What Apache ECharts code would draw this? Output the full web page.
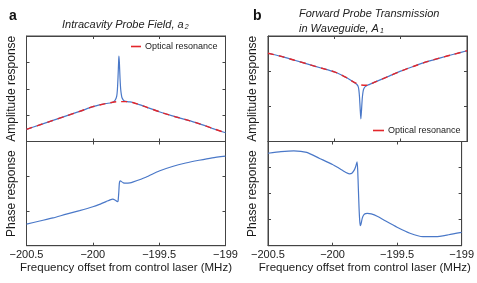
<!DOCTYPE html>
<html>
<head>
<meta charset="utf-8">
<script src="https://cdn.jsdelivr.net/npm/echarts@6/dist/echarts.min.js"></script>
<style>
html,body{margin:0;padding:0;background:#fff;}
#c{width:477px;height:283px;}
</style>
</head>
<body>
<div id="c"></div>
<script>
// ---------- data ----------
var xTicks = [-200.5, -200, -199.5, -199];

// Panel a: intracavity probe field, amplitude
var freqAmpA = [-200.5,-200.4,-200.3,-200.2,-200.1,-200.0,-199.95,-199.9,-199.86,-199.84,-199.83,-199.82,-199.815,-199.81,-199.805,-199.803,-199.8,-199.795,-199.79,-199.785,-199.78,-199.77,-199.76,-199.74,-199.72,-199.7,-199.65,-199.6,-199.5,-199.4,-199.3,-199.2,-199.1,-199.0];
var ampA     = [0.46,0.63,0.80,0.97,1.14,1.32,1.39,1.44,1.47,1.52,1.58,1.72,1.95,2.45,3.10,3.24,3.00,2.40,1.98,1.78,1.66,1.57,1.53,1.51,1.50,1.48,1.40,1.31,1.13,0.97,0.83,0.68,0.50,0.33];
var freqOptA = [-200.5,-200.4,-200.3,-200.2,-200.1,-200.0,-199.9,-199.85,-199.8,-199.75,-199.7,-199.6,-199.5,-199.4,-199.3,-199.2,-199.1,-199.0];
var optA     = [0.46,0.63,0.80,0.97,1.14,1.32,1.44,1.49,1.51,1.51,1.48,1.31,1.13,0.97,0.83,0.68,0.50,0.33];

// Panel a: phase
var freqPhA = [-200.5,-200.4,-200.3,-200.2,-200.1,-200.0,-199.95,-199.9,-199.87,-199.85,-199.83,-199.815,-199.81,-199.805,-199.8,-199.795,-199.79,-199.77,-199.75,-199.72,-199.7,-199.6,-199.5,-199.4,-199.3,-199.2,-199.1,-199.0];
var phA     = [0.62,0.71,0.80,0.91,1.01,1.12,1.19,1.27,1.32,1.34,1.31,1.27,1.28,1.50,1.80,1.87,1.86,1.81,1.80,1.81,1.83,1.97,2.15,2.28,2.38,2.46,2.53,2.58];

// Panel b: forward probe transmission, amplitude
var freqAmpB = [-200.5,-200.4,-200.3,-200.2,-200.1,-200.0,-199.95,-199.9,-199.85,-199.83,-199.82,-199.815,-199.81,-199.805,-199.8,-199.795,-199.79,-199.785,-199.78,-199.77,-199.76,-199.75,-199.7,-199.6,-199.5,-199.4,-199.3,-199.2,-199.1,-199.0];
var ampB     = [2.51,2.42,2.31,2.20,2.09,1.98,1.90,1.80,1.68,1.62,1.56,1.46,1.25,0.92,0.64,0.90,1.20,1.38,1.48,1.55,1.58,1.60,1.68,1.84,2.00,2.14,2.27,2.38,2.48,2.58];
var freqOptB = [-200.5,-200.4,-200.3,-200.2,-200.1,-200.0,-199.95,-199.9,-199.85,-199.8,-199.75,-199.7,-199.6,-199.5,-199.4,-199.3,-199.2,-199.1,-199.0];
var optB     = [2.51,2.42,2.31,2.20,2.09,1.98,1.90,1.80,1.68,1.61,1.60,1.68,1.84,2.00,2.14,2.27,2.38,2.48,2.58];

// Panel b: phase
var freqPhB = [-200.5,-200.4,-200.3,-200.2,-200.1,-200.0,-199.95,-199.9,-199.87,-199.85,-199.83,-199.82,-199.81,-199.805,-199.8,-199.795,-199.79,-199.785,-199.78,-199.77,-199.76,-199.745,-199.73,-199.7,-199.65,-199.6,-199.5,-199.4,-199.3,-199.2,-199.1,-199.0];
var phB     = [3.55,3.61,3.64,3.58,3.35,3.12,2.97,2.82,2.76,2.78,2.92,3.05,3.22,2.90,2.20,1.50,1.00,0.77,0.82,1.05,1.17,1.23,1.24,1.22,1.12,0.98,0.71,0.48,0.35,0.35,0.42,0.51];

// ---------- chart ----------
function zip(xs, ys){ return xs.map(function(x,i){ return [x, ys[i]]; }); }
var BLUE = '#4a78c8', RED = '#e3262b', AX = '#444', TXT = '#1a1a1a';
var FONT = 'Liberation Sans, Arial, sans-serif';
function fmt(v){ return String(v).replace('-', '\u2212'); }

var grids = [
  {left:26.5, top:36, width:199, height:105.5},
  {left:26.5, top:141.5, width:199, height:104.2},
  {left:268, top:36, width:199, height:105.5},
  {left:268, top:141.5, width:199, height:104.2}
].map(function(g){ g.show = true; g.borderColor = AX; g.borderWidth = 1; g.backgroundColor = 'transparent'; return g; });

var xAxes = [], yAxes = [];
var yRanges = [[0,4],[0,3],[0,3],[0,4]];
grids.forEach(function(g, gi){
  var showLab = (gi === 1 || gi === 3);
  ['bottom','top'].forEach(function(pos){
    var main = (pos === 'bottom');
    xAxes.push({
      type:'value', gridIndex:gi, position:pos, min:-200.5, max:-199, interval:0.5,
      axisLine:{show:true, onZero:false, lineStyle:{color:AX, width:1}},
      axisTick:{show:true, inside:true, length:3, lineStyle:{color:AX}},
      splitLine:{show:false},
      axisLabel:{show: showLab && main, formatter:fmt, fontSize:11, fontFamily:FONT, color:TXT, margin:4, showMinLabel:true, showMaxLabel:true},
      name: (showLab && main) ? 'Frequency offset from control laser (MHz)' : '',
      nameLocation:'middle', nameGap:15,
      nameTextStyle:{fontSize:11.5, fontFamily:FONT, color:TXT}
    });
  });
  ['left','right'].forEach(function(pos){
    var main = (pos === 'left');
    yAxes.push({
      type:'value', gridIndex:gi, position:pos, min:yRanges[gi][0], max:yRanges[gi][1], interval:1,
      axisLine:{show:true, onZero:false, lineStyle:{color:AX, width:1}},
      axisTick:{show:true, inside:true, length:3, lineStyle:{color:AX}},
      splitLine:{show:false},
      axisLabel:{show:false},
      name: main ? ((gi % 2 === 0) ? 'Amplitude response' : 'Phase response') : '',
      nameLocation:'middle', nameGap:9,
      nameTextStyle:{fontSize:12, fontFamily:FONT, color:TXT}
    });
  });
});

function blue(xi, yi, data){
  return {type:'line', xAxisIndex:xi, yAxisIndex:yi, data:data, showSymbol:false, symbol:'none',
    smooth:0.2, lineStyle:{color:BLUE, width:1.2}, itemStyle:{color:BLUE}, z:2, silent:true, animation:false};
}
function red(xi, yi, data){
  return {name:'Optical resonance', type:'line', xAxisIndex:xi, yAxisIndex:yi, data:data, showSymbol:false, symbol:'none',
    smooth:0.3, lineStyle:{color:RED, width:1.4, type:[6,5]}, itemStyle:{color:RED}, z:3, silent:true, animation:false};
}

var titleRich = {
  i:{fontSize:11, fontStyle:'italic', fontWeight:'normal', fontFamily:FONT, color:'#222'},
  s:{fontSize:7, fontStyle:'italic', fontWeight:'normal', fontFamily:FONT, color:'#222', verticalAlign:'bottom', padding:[6,0,0,1]}
};

var option = {
  backgroundColor:'#fff',
  animation:false,
  grid: grids,
  xAxis: xAxes,
  yAxis: yAxes,
  title: [
    {text:'a', left:4, top:4, textStyle:{fontSize:14, fontWeight:'bold', fontFamily:FONT, color:'#111'}},
    {text:'b', left:248, top:4, textStyle:{fontSize:14, fontWeight:'bold', fontFamily:FONT, color:'#111'}},
    {text:'{i|Intracavity Probe Field, a}{s|2}', left:57, top:13,
      textStyle:{fontWeight:'normal', rich:titleRich}},
    {text:'{i|Forward Probe Transmission}', left:294, top:3,
      textStyle:{fontWeight:'normal', rich:titleRich}},
    {text:'{i|in Waveguide, A}{s|1}', left:294, top:17,
      textStyle:{fontWeight:'normal', rich:titleRich}}
  ],
  legend: [
    {data:['Optical resonance'], left:131, top:42, itemWidth:10, itemHeight:1.6, itemGap:4, padding:0,
      icon:'rect', itemStyle:{color:RED}, textStyle:{fontSize:9, fontFamily:FONT, color:TXT, padding:[0,0,0,-1]}, selectedMode:false},
    {data:['Optical resonance'], left:373, top:126, itemWidth:11, itemHeight:1.6, itemGap:4, padding:0,
      icon:'rect', itemStyle:{color:RED}, textStyle:{fontSize:9, fontFamily:FONT, color:TXT, padding:[0,0,0,-1]}, selectedMode:false}
  ],
  series: [
    blue(0, 0, zip(freqAmpA, ampA)),
    red(0, 0, zip(freqOptA, optA)),
    blue(2, 2, zip(freqPhA, phA)),
    blue(4, 4, zip(freqAmpB, ampB)),
    red(4, 4, zip(freqOptB, optB)),
    blue(6, 6, zip(freqPhB, phB))
  ]
};
var chart = echarts.init(document.getElementById('c'), null, {renderer:'canvas'});
chart.setOption(option);
</script>
</body>
</html>
